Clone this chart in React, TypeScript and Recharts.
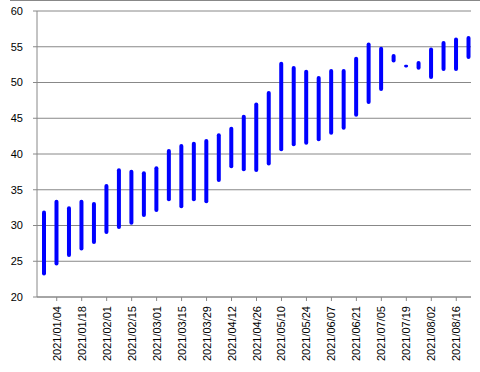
import React from 'react';
import { BarChart, Bar, XAxis, YAxis, CartesianGrid } from 'recharts';

// weekly categories
const weeks = [
  '2020/12/28', '2021/01/04', '2021/01/11', '2021/01/18', '2021/01/25',
  '2021/02/01', '2021/02/08', '2021/02/15', '2021/02/22', '2021/03/01',
  '2021/03/08', '2021/03/15', '2021/03/22', '2021/03/29', '2021/04/05',
  '2021/04/12', '2021/04/19', '2021/04/26', '2021/05/03', '2021/05/10',
  '2021/05/17', '2021/05/24', '2021/05/31', '2021/06/07', '2021/06/14',
  '2021/06/21', '2021/06/28', '2021/07/05', '2021/07/12', '2021/07/19',
  '2021/07/26', '2021/08/02', '2021/08/09', '2021/08/16', '2021/08/23',
];

const lows = [
  23.0, 24.4, 25.6, 26.5, 27.4, 28.8, 29.5, 30.1, 31.2, 31.9,
  33.4, 32.4, 33.4, 33.1, 36.1, 38.0, 37.6, 37.5, 38.4, 40.4,
  41.1, 41.3, 41.8, 42.7, 43.4, 45.2, 47.0, 48.8, 52.8, 52.1,
  51.8, 50.5, 51.6, 51.6, 53.3,
];

const highs = [
  32.1, 33.6, 32.7, 33.6, 33.3, 35.8, 38.0, 37.8, 37.6, 38.3,
  40.7, 41.4, 41.7, 42.1, 42.9, 43.8, 45.5, 47.2, 48.8, 52.9,
  52.3, 51.8, 50.9, 51.9, 51.9, 53.6, 55.6, 55.0, 54.0, 52.5,
  53.0, 54.9, 55.8, 56.3, 56.5,
];

const yTicks = [20, 25, 30, 35, 40, 45, 50, 55, 60];

const data = weeks.map((w, i) => ({ week: w, range: [lows[i], highs[i]] }));

// only every other week gets a label and tick mark, starting at 2021/01/04
const DateTick = (props: any) => {
  const { x, y, payload, index } = props;
  if (index % 2 !== 1) return null;
  return (
    <g>
      <line x1={x} y1={y - 8} x2={x} y2={y - 4} stroke="#888" />
      <text
        x={x}
        y={y + 1}
        transform={`rotate(-90, ${x}, ${y + 1})`}
        textAnchor="end"
        dominantBaseline="central"
        fill="#000"
        fontSize={11}
        fontFamily="'Liberation Sans', Arial, sans-serif"
      >
        {payload.value}
      </text>
    </g>
  );
};

export default function App() {
  return (
    <div style={{ position: 'absolute', left: 0, top: 0, width: 480, height: 372, background: '#fff' }}>
      <div style={{ position: 'absolute', left: 10, top: 0, width: 470, height: 1, background: '#888' }} />
      <BarChart
        width={480}
        height={372}
        data={data}
        margin={{ top: 11, right: 9, left: 0, bottom: 0 }}
        barCategoryGap={0}
      >
        <CartesianGrid vertical={false} stroke="#888" strokeDasharray="" />
        <XAxis
          dataKey="week"
          interval={0}
          height={75}
          padding={{ left: 1, right: -4 }}
          axisLine={{ stroke: '#888' }}
          tickLine={false}
          tick={<DateTick />}
          tickSize={4}
          tickMargin={4}
        />
        <YAxis
          domain={[20, 60]}
          ticks={yTicks}
          width={37}
          axisLine={{ stroke: '#888' }}
          tickLine={{ stroke: '#888' }}
          tickSize={4}
          tickMargin={10}
          tick={{ fill: '#000', fontSize: 11, fontFamily: "'Liberation Sans', Arial, sans-serif" }}
          allowDataOverflow
        />
        <Bar dataKey="range" fill="#0000ff" barSize={4} radius={2} isAnimationActive={false} />
      </BarChart>
    </div>
  );
}
